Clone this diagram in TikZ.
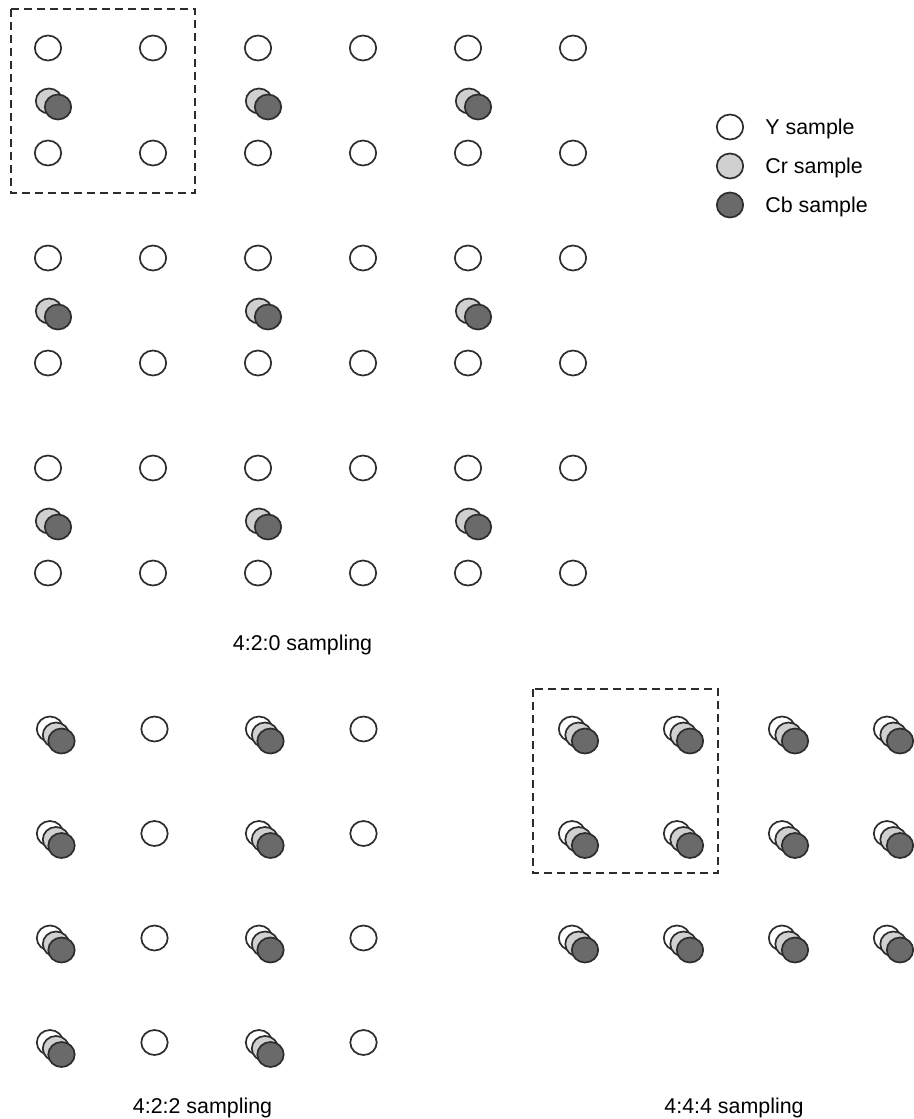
\documentclass[tikz,border=0pt]{standalone}
\usepackage{fontspec}
\setmainfont{Liberation Sans}
\usetikzlibrary{shapes.geometric}
\definecolor{crgray}{RGB}{208,208,208}
\definecolor{cbgray}{RGB}{106,106,106}
\definecolor{rimgray}{RGB}{45,45,45}

\begin{document}
\begin{tikzpicture}[
  x=0.5pt, y=-0.5pt,
  font=\fontsize{10.7}{12}\selectfont,
  smp/.style={ellipse, draw=rimgray, line width=0.85pt, inner sep=0pt,
              minimum width=13.2pt, minimum height=12.5pt},
  ysmp/.style={smp, fill=white},
  crsmp/.style={smp, fill=crgray},
  cbsmp/.style={smp, fill=cbgray},
  frame/.style={draw=rimgray, line width=0.9pt, dash pattern=on 4pt off 2.5pt},
  lbl/.style={inner sep=0pt}
]
\useasboundingbox (0,0) rectangle (914,1119);
% 4:2:0
\foreach \i in {0,...,5}
  \foreach \j in {0,...,5}
    \node[ysmp] (a-\i-\j) at ({48+105*\i},{48+105*\j}) {};
\foreach \i in {0,2,4}
  \foreach \j in {0,2,4} {
    \node[crsmp] (acr-\i-\j) at ({49+105*\i},{101+105*\j}) {};
    \node[cbsmp] (acb-\i-\j) at ({58+105*\i},{107+105*\j}) {};
  }
\draw[frame] (11,9) rectangle (195,193);
\node[lbl, anchor=base] (tzero) at (302.5,650) {4:2:0 sampling};
% 4:2:2
\foreach \i in {0,...,3}
  \foreach \j in {0,...,3}
    \node[ysmp] (b-\i-\j) at ({50+104.5*\i},{729+104.5*\j}) {};
\foreach \i in {0,2}
  \foreach \j in {0,...,3} {
    \node[crsmp] (bcr-\i-\j) at ({56+104.5*\i},{735+104.5*\j}) {};
    \node[cbsmp] (bcb-\i-\j) at ({61.5+104.5*\i},{741+104.5*\j}) {};
  }
\node[lbl, anchor=base] (ttwo) at (202.5,1113) {4:2:2 sampling};
% 4:4:4
\foreach \i in {0,...,3}
  \foreach \j in {0,...,2} {
    \node[ysmp] (c-\i-\j) at ({572+105*\i},{729+104.5*\j}) {};
    \node[crsmp] (ccr-\i-\j) at ({578.5+105*\i},{735+104.5*\j}) {};
    \node[cbsmp] (ccb-\i-\j) at ({585+105*\i},{741+104.5*\j}) {};
  }
\draw[frame] (533,689) rectangle (718,873);
\node[lbl, anchor=base] (tfour) at (734,1113) {4:4:4 sampling};
% legend
\node[ysmp]  (ylg)  at (730,127) {};
\node[crsmp] (crlg) at (730,166) {};
\node[cbsmp] (cblg) at (730,205) {};
\node[lbl, anchor=base west] (ytxt)  at (765,134) {Y sample};
\node[lbl, anchor=base west] (crtxt) at (765,173) {Cr sample};
\node[lbl, anchor=base west] (cbtxt) at (765,212) {Cb sample};
\end{tikzpicture}
\end{document}
